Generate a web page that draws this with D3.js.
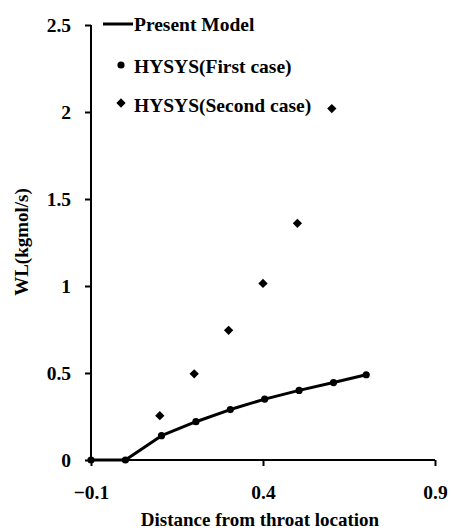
<!DOCTYPE html>
<html>
<head>
<meta charset="utf-8">
<script src="https://cdn.jsdelivr.net/npm/d3@7"></script>
<style>
  body { margin: 0; background: #fff; }
  svg text { font-family: "Liberation Serif", "DejaVu Serif", "Times New Roman", serif !important; font-weight: bold; fill: #000; }
</style>
</head>
<body>
<div class="chart"></div>
<script>
// distances along the nozzle (from throat)
const modelX = [-0.1, 0, 0.105, 0.205, 0.305, 0.405, 0.505, 0.605, 0.7];
const modelY = [0, 0, 0.14, 0.22, 0.29, 0.35, 0.40, 0.445, 0.49];
const firstX = [-0.1, 0, 0.105, 0.205, 0.305, 0.405, 0.505, 0.605, 0.7];
const firstY = [0, 0, 0.14, 0.22, 0.29, 0.35, 0.40, 0.445, 0.49];
const secondX = [0.1, 0.2, 0.3, 0.4, 0.5, 0.6];
const secondY = [0.255, 0.495, 0.745, 1.015, 1.36, 2.02];
const xTicks = [-0.1, 0.4, 0.9];
const yTicks = [0, 0.5, 1, 1.5, 2, 2.5];
const legendNames = ['Present Model', 'HYSYS(First case)', 'HYSYS(Second case)'];

const dims = { width: 451, height: 532 };
const plot = { left: 91, right: 435, top: 25, bottom: 460 };

const svg = d3.select('.chart')
  .append('svg')
  .attr('width', dims.width)
  .attr('height', dims.height);

const x = d3.scaleLinear().domain([-0.1, 0.9]).range([plot.left, plot.right]);
const y = d3.scaleLinear().domain([0, 2.5]).range([plot.bottom, plot.top]);

// axes
const xAxis = svg.append('g')
  .attr('transform', `translate(0, ${plot.bottom})`)
  .call(d3.axisBottom(x).tickValues(xTicks).tickSize(6).tickPadding(19).tickFormat(d3.format('')));
const yAxis = svg.append('g')
  .attr('transform', `translate(${plot.left}, 0)`)
  .call(d3.axisLeft(y).tickValues(yTicks).tickSize(6).tickPadding(14).tickFormat(d3.format('')));

[xAxis, yAxis].forEach(a => {
  a.attr('font-family', null);
  a.select('.domain').attr('stroke', '#000').attr('stroke-width', 2);
  a.selectAll('.tick line').attr('stroke', '#000').attr('stroke-width', 2);
  a.selectAll('.tick text').style('font-size', '19.5px');
});
xAxis.select('.domain').attr('d', `M${plot.left},0H${plot.right}`);
yAxis.select('.domain').attr('d', `M0,${plot.top}V${plot.bottom}`);

// axis titles
svg.append('text')
  .attr('x', 260)
  .attr('y', 526)
  .attr('text-anchor', 'middle')
  .style('font-size', '19px')
  .text('Distance from throat location');

svg.append('text')
  .attr('transform', `translate(28, 242) rotate(-90)`)
  .attr('text-anchor', 'middle')
  .style('font-size', '19px')
  .text('WL(kgmol/s)');

// present model line
const line = d3.line()
  .x((d, i) => x(modelX[i]))
  .y(d => y(d));

svg.append('path')
  .attr('d', line(modelY))
  .attr('fill', 'none')
  .attr('stroke', '#000')
  .attr('stroke-width', 3)
  .attr('stroke-linejoin', 'round');

// first case circles
svg.append('g').selectAll('circle')
  .data(firstY)
  .enter().append('circle')
  .attr('cx', (d, i) => x(firstX[i]))
  .attr('cy', d => y(d))
  .attr('r', 3.6)
  .attr('fill', '#000');

// second case diamonds
const diamond = d3.symbol().type(d3.symbolDiamond2).size(55);
svg.append('g').selectAll('path')
  .data(secondY)
  .enter().append('path')
  .attr('d', diamond)
  .attr('transform', (d, i) => `translate(${x(secondX[i])}, ${y(d)})`)
  .attr('fill', '#000');

// legend
const legend = svg.append('g');
const rows = [24, 66, 105];
legend.append('line')
  .attr('x1', 103).attr('x2', 133)
  .attr('y1', rows[0]).attr('y2', rows[0])
  .attr('stroke', '#000').attr('stroke-width', 3);
legend.append('circle')
  .attr('cx', 121).attr('cy', rows[1] - 1).attr('r', 3.6).attr('fill', '#000');
legend.append('path')
  .attr('d', diamond)
  .attr('transform', `translate(121, ${rows[2] - 2})`)
  .attr('fill', '#000');
legend.selectAll('text')
  .data(legendNames)
  .enter().append('text')
  .attr('x', 134)
  .attr('y', (d, i) => rows[i])
  .attr('dy', '0.35em')
  .style('font-size', '19.5px')
  .text(d => d);
</script>
</body>
</html>
